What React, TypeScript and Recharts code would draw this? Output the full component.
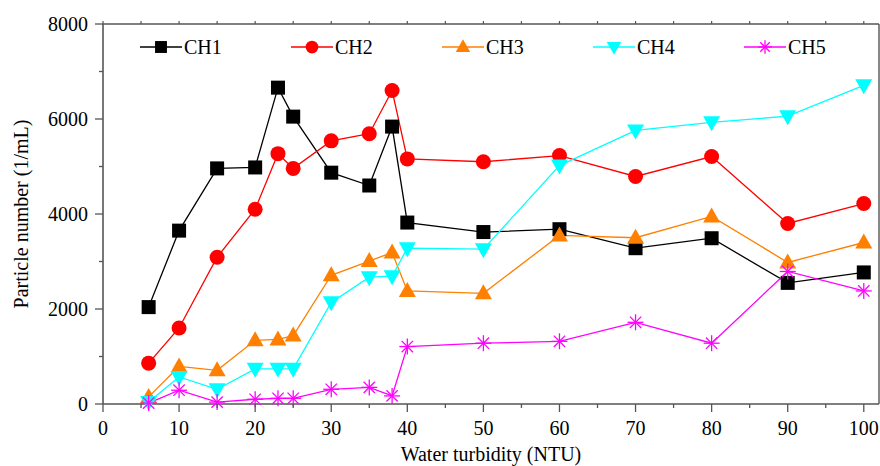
import { LineChart, Line, XAxis, YAxis, Legend } from "recharts";

const turbidity = [6, 10, 15, 20, 23, 25, 30, 35, 38, 40, 50, 60, 70, 80, 90, 100];
const ch1 = [2040, 3650, 4960, 4980, 6660, 6050, 4870, 4600, 5840, 3820, 3620, 3680, 3280, 3490, 2550, 2770];
const ch2 = [860, 1600, 3090, 4100, 5270, 4960, 5540, 5690, 6600, 5160, 5100, 5230, 4790, 5210, 3800, 4220];
const ch3 = [150, 790, 710, 1340, 1360, 1440, 2710, 3010, 3190, 2380, 2330, 3550, 3500, 3950, 2980, 3400];
const ch4 = [40, 570, 310, 740, 740, 740, 2140, 2670, 2690, 3280, 3260, 5020, 5760, 5930, 6060, 6710];
const ch5 = [20, 290, 40, 100, 120, 120, 310, 350, 170, 1210, 1280, 1320, 1720, 1280, 2790, 2380];

const xTicks = [0, 5, 10, 15, 20, 25, 30, 35, 40, 45, 50, 55, 60, 65, 70, 75, 80, 85, 90, 95, 100];
const yTicks = [0, 1000, 2000, 3000, 4000, 5000, 6000, 7000, 8000];

const data = turbidity.map((x, i) => ({
  x,
  CH1: ch1[i],
  CH2: ch2[i],
  CH3: ch3[i],
  CH4: ch4[i],
  CH5: ch5[i],
}));

const series = [
  { key: "CH1", color: "#000000", marker: "square" },
  { key: "CH2", color: "#ff0000", marker: "circle" },
  { key: "CH3", color: "#ff8000", marker: "up" },
  { key: "CH4", color: "#00ffff", marker: "down" },
  { key: "CH5", color: "#ff00ff", marker: "star" },
];

const FONT = "'Liberation Serif', 'Times New Roman', serif";
const AXIS = "#555";

function marker(kind: string, cx: number, cy: number, color: string, k = 1, key?: string) {
  if (cx == null || cy == null) return <g key={key} />;
  if (kind === "square") {
    const s = 14 * k;
    return <rect key={key} x={cx - s / 2} y={cy - s / 2} width={s} height={s} fill={color} />;
  }
  if (kind === "circle") {
    return <circle key={key} cx={cx} cy={cy} r={7.5 * k} fill={color} />;
  }
  if (kind === "up") {
    const w = 8.5 * k;
    return (
      <polygon
        key={key}
        points={`${cx},${cy - 9 * k} ${cx - w},${cy + 6 * k} ${cx + w},${cy + 6 * k}`}
        fill={color}
      />
    );
  }
  if (kind === "down") {
    const w = 8.5 * k;
    return (
      <polygon
        key={key}
        points={`${cx - w},${cy - 6 * k} ${cx + w},${cy - 6 * k} ${cx},${cy + 9 * k}`}
        fill={color}
      />
    );
  }
  const r = 8 * k;
  const d = r * Math.SQRT1_2;
  return (
    <g key={key} stroke={color} strokeWidth={1.3}>
      <line x1={cx - r} y1={cy} x2={cx + r} y2={cy} />
      <line x1={cx} y1={cy - r} x2={cx} y2={cy + r} />
      <line x1={cx - d} y1={cy - d} x2={cx + d} y2={cy + d} />
      <line x1={cx - d} y1={cy + d} x2={cx + d} y2={cy - d} />
    </g>
  );
}

const BottomTick = (props: any) => {
  const { x, y, payload } = props;
  const major = payload.value % 10 === 0;
  return (
    <g>
      <line x1={x} x2={x} y1={y} y2={y + (major ? 8 : 4)} stroke={AXIS} strokeWidth={1.3} />
      {major && (
        <text x={x} y={y + 31} textAnchor="middle" fontSize={20} fontFamily={FONT} fill="#000">
          {payload.value}
        </text>
      )}
    </g>
  );
};

const LeftTick = (props: any) => {
  const { x, y, payload } = props;
  const major = payload.value % 2000 === 0;
  return (
    <g>
      <line x1={x} x2={x - (major ? 8 : 4)} y1={y} y2={y} stroke={AXIS} strokeWidth={1.3} />
      {major && (
        <text x={x - 15} y={y + 7} textAnchor="end" fontSize={20} fontFamily={FONT} fill="#000">
          {payload.value}
        </text>
      )}
    </g>
  );
};

const TopTick = (props: any) => {
  const { x, y } = props;
  return <line x1={x} x2={x} y1={y} y2={y - 3} stroke={AXIS} strokeWidth={1.2} />;
};

const RightTick = (props: any) => {
  const { x, y } = props;
  return <line x1={x} x2={x + 3} y1={y} y2={y} stroke={AXIS} strokeWidth={1.2} />;
};

const LegendContent = (props: any) => {
  const { payload } = props;
  return (
    <div style={{ display: "flex" }}>
      {(payload || []).map((p: any) => {
        const s = series.find((q) => q.key === p.value)!;
        return (
          <div key={p.value} style={{ width: 151, display: "flex", alignItems: "center" }}>
            <svg width={44} height={20} style={{ overflow: "visible" }}>
              <line x1={0} x2={42} y1={10} y2={10} stroke={s.color} strokeWidth={1.3} />
              {marker(s.marker, 21, 10, s.color, 0.85)}
            </svg>
            <span style={{ fontFamily: FONT, fontSize: 20, color: "#000", lineHeight: "20px" }}>{p.value}</span>
          </div>
        );
      })}
    </div>
  );
};

export default function App() {
  return (
    <div style={{ position: "absolute", left: 0, top: 0, width: 880, height: 466, background: "#fff" }}>
      <LineChart width={880} height={466} data={data} margin={{ top: 23, right: 0, left: 0, bottom: 0 }}>
        <XAxis
          type="number"
          dataKey="x"
          domain={[0, 102]}
          ticks={xTicks}
          interval={0}
          height={62}
          tickSize={0}
          tickMargin={0}
          tickLine={false}
          tick={<BottomTick />}
          axisLine={{ stroke: AXIS, strokeWidth: 1.6 }}
          label={(p: any) => {
            const vb = p.viewBox;
            return (
              <text
                x={vb.x + vb.width / 2}
                y={vb.y + 57}
                textAnchor="middle"
                fontSize={20}
                fontFamily={FONT}
                fill="#000"
              >
                Water turbidity (NTU)
              </text>
            );
          }}
        />
        <XAxis
          xAxisId="top"
          orientation="top"
          type="number"
          dataKey="x"
          domain={[0, 102]}
          ticks={xTicks}
          interval={0}
          height={1}
          tickSize={0}
          tickMargin={0}
          tickLine={false}
          tick={<TopTick />}
          axisLine={{ stroke: AXIS, strokeWidth: 1.4 }}
        />
        <YAxis
          type="number"
          domain={[0, 8000]}
          ticks={yTicks}
          interval={0}
          width={103}
          tickSize={0}
          tickMargin={0}
          tickLine={false}
          tick={<LeftTick />}
          axisLine={{ stroke: AXIS, strokeWidth: 1.6 }}
          label={(p: any) => {
            const vb = p.viewBox;
            const cx = 21;
            const cy = vb.y + vb.height / 2;
            return (
              <text
                x={cx}
                y={cy}
                transform={`rotate(-90 ${cx} ${cy})`}
                textAnchor="middle"
                dominantBaseline="central"
                fontSize={20}
                fontFamily={FONT}
                fill="#000"
              >
                Particle number (1/mL)
              </text>
            );
          }}
        />
        <YAxis
          yAxisId="right"
          orientation="right"
          type="number"
          domain={[0, 8000]}
          ticks={yTicks}
          interval={0}
          width={1}
          tickSize={0}
          tickMargin={0}
          tickLine={false}
          tick={<RightTick />}
          axisLine={{ stroke: AXIS, strokeWidth: 1.4 }}
        />
        <Legend
          layout="horizontal"
          verticalAlign="middle"
          align="center"
          wrapperStyle={{ top: 37, left: 140, width: 760 }}
          content={<LegendContent />}
        />
        {series.map((s) => (
          <Line
            key={s.key}
            type="linear"
            dataKey={s.key}
            name={s.key}
            stroke={s.color}
            strokeWidth={1.3}
            isAnimationActive={false}
            dot={(p: any) => marker(s.marker, p.cx, p.cy, s.color, 1, `${s.key}-${p.index}`)}
            activeDot={false}
          />
        ))}
      </LineChart>
    </div>
  );
}
